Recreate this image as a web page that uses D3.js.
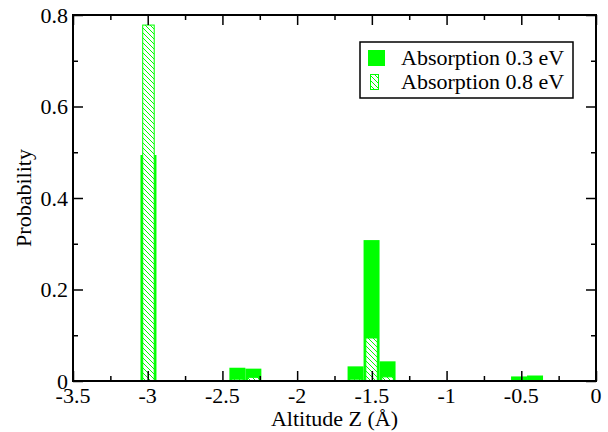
<!DOCTYPE html>
<html>
<head>
<meta charset="utf-8">
<script src="https://cdn.jsdelivr.net/npm/d3@7"></script>
<style>
  body { margin: 0; background: #fff; }
  text { font-family: "Liberation Serif", "Times New Roman", serif; font-size: 22px; fill: #000; }
</style>
</head>
<body>
<svg width="608" height="432"></svg>
<script>
// bin centres (altitude Z, Angstrom) and probabilities
const binCenters = [-2.995, -2.4, -2.293, -1.609, -1.502, -1.395, -0.515, -0.408];
const absorption03 = [0.494, 0.029, 0.027, 0.032, 0.308, 0.043, 0.010, 0.012];
const absorption08 = [0.778, 0.004, 0.008, 0.004, 0.094, 0.009, 0, 0];
const seriesNames = ['Absorption 0.3 eV', 'Absorption 0.8 eV'];
const xTicks = [-3.5, -3, -2.5, -2, -1.5, -1, -0.5, 0];
const yTicks = [0, 0.2, 0.4, 0.6, 0.8];

const width = 608, height = 432;
const margin = { top: 15, right: 12, bottom: 51, left: 73 };
const green = '#00ff00';
const barWidthA = 0.107, barWidthB = 0.077;

const svg = d3.select('svg');

const x = d3.scaleLinear().domain([-3.5, 0]).range([margin.left, width - margin.right]);
const y = d3.scaleLinear().domain([0, 0.8]).range([height - margin.bottom, margin.top]);

// hatch pattern for the 0.8 eV series
const defs = svg.append('defs');
const pat = defs.append('pattern')
    .attr('id', 'hatch')
    .attr('patternUnits', 'userSpaceOnUse')
    .attr('width', 5)
    .attr('height', 5);
pat.append('rect').attr('width', 5).attr('height', 5).attr('fill', '#fff');
pat.append('path')
    .attr('d', 'M-1,-1 L6,6 M-1,4 L1,6 M4,-1 L6,1')
    .attr('stroke', green)
    .attr('stroke-width', 1);

const dataA = binCenters.map((c, i) => ({ c, v: absorption03[i] }));
const dataB = binCenters.map((c, i) => ({ c, v: absorption08[i] })).filter(d => d.v > 0);

// zero-height bins show as a green line along the baseline
svg.append('line')
    .attr('x1', x(d3.min(binCenters) - barWidthA / 2))
    .attr('x2', x(d3.max(binCenters) + barWidthA / 2))
    .attr('y1', y(0)).attr('y2', y(0))
    .attr('stroke', green)
    .attr('stroke-width', 1.5);

// filled bars
svg.append('g').selectAll('rect')
    .data(dataA)
    .enter()
    .append('rect')
    .attr('x', d => x(d.c - barWidthA / 2))
    .attr('width', d => x(d.c + barWidthA / 2) - x(d.c - barWidthA / 2))
    .attr('y', d => y(d.v))
    .attr('height', d => y(0) - y(d.v))
    .attr('fill', green);

// hatched bars
svg.append('g').selectAll('rect')
    .data(dataB)
    .enter()
    .append('rect')
    .attr('x', d => x(d.c - barWidthB / 2))
    .attr('width', d => x(d.c + barWidthB / 2) - x(d.c - barWidthB / 2))
    .attr('y', d => y(d.v))
    .attr('height', d => y(0) - y(d.v))
    .attr('fill', 'url(#hatch)')
    .attr('stroke', green)
    .attr('stroke-width', 1);

// ticks, pointing inward on all four sides
const xMinor = d3.range(-3.25, 0, 0.5);
const yMinor = d3.range(0.1, 0.8, 0.2);
const majorLen = 10, minorLen = 5;

function tickAxis(axis, ticks, len, pos) {
    svg.append('g')
        .attr('transform', pos)
        .call(axis.tickValues(ticks).tickSize(len).tickFormat(''))
        .call(g => g.select('.domain').remove())
        .call(g => g.selectAll('line').attr('stroke', '#000').attr('stroke-width', 1.5));
}

[[xTicks, majorLen], [xMinor, minorLen]].forEach(([t, l]) => {
    tickAxis(d3.axisTop(x), t, l, `translate(0,${y(0)})`);
    tickAxis(d3.axisBottom(x), t, l, `translate(0,${y(0.8)})`);
});
[[yTicks, majorLen], [yMinor, minorLen]].forEach(([t, l]) => {
    tickAxis(d3.axisRight(y), t, l, `translate(${x(-3.5)},0)`);
    tickAxis(d3.axisLeft(y), t, l, `translate(${x(0)},0)`);
});

// frame
svg.append('rect')
    .attr('x', x(-3.5)).attr('y', y(0.8))
    .attr('width', x(0) - x(-3.5)).attr('height', y(0) - y(0.8))
    .attr('fill', 'none')
    .attr('stroke', '#000')
    .attr('stroke-width', 2);

// tick labels
svg.append('g').selectAll('text')
    .data(xTicks)
    .enter()
    .append('text')
    .attr('x', d => x(d))
    .attr('y', 403)
    .attr('text-anchor', 'middle')
    .text(d => String(d));

svg.append('g').selectAll('text')
    .data(yTicks)
    .enter()
    .append('text')
    .attr('x', x(-3.5) - 5)
    .attr('y', d => y(d))
    .attr('dy', '0.35em')
    .attr('text-anchor', 'end')
    .text(d => d);

// axis titles
svg.append('text')
    .attr('x', (x(-3.5) + x(0)) / 2)
    .attr('y', 426)
    .attr('text-anchor', 'middle')
    .text('Altitude Z (Å)');

svg.append('text')
    .attr('transform', `translate(31,${(y(0) + y(0.8)) / 2}) rotate(-90)`)
    .attr('text-anchor', 'middle')
    .text('Probability');

// legend
const legend = svg.append('g');
legend.append('rect')
    .attr('x', 360).attr('y', 42)
    .attr('width', 213).attr('height', 56)
    .attr('fill', '#fff')
    .attr('stroke', '#000')
    .attr('stroke-width', 1.5);
legend.append('rect')
    .attr('x', 368).attr('y', 50)
    .attr('width', 17).attr('height', 16)
    .attr('fill', green);
legend.append('rect')
    .attr('x', 370.5).attr('y', 74.5)
    .attr('width', 8).attr('height', 15)
    .attr('fill', 'url(#hatch)')
    .attr('stroke', green)
    .attr('stroke-width', 1);
legend.selectAll('text.lg')
    .data(seriesNames)
    .enter()
    .append('text')
    .attr('class', 'lg')
    .attr('x', 401)
    .attr('y', (d, i) => 65 + i * 24)
    .text(d => d);
</script>
</body>
</html>
